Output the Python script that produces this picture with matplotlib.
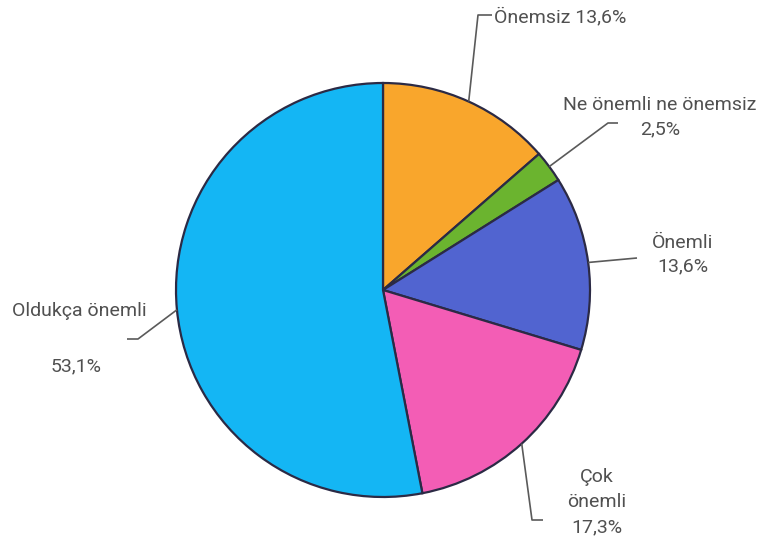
import numpy as np
import matplotlib
matplotlib.use("Agg")
import matplotlib.pyplot as plt

# Survey answers, drawn clockwise from 12 o'clock
categories = ["Önemsiz", "Ne önemli ne önemsiz", "Önemli", "Çok önemli", "Oldukça önemli"]
shares = [13.6, 2.5, 13.6, 17.3, 53.1]
value_labels = ["13,6%", "2,5%", "13,6%", "17,3%", "53,1%"]
colors = ["#F9A62C", "#6BB42F", "#5164D0", "#F35DB5", "#14B6F4"]

W, H = 760, 545
fig = plt.figure(figsize=(W / 100, H / 100), dpi=100)
ax = fig.add_axes([0, 0, 1, 1])


def py(y):
    """Convert a top-down pixel row into the y-up axis coordinate."""
    return H - y


cx, cy, r = 383, py(290), 207
wedges, _ = ax.pie(
    shares, colors=colors, startangle=90, counterclock=False,
    center=(cx, cy), radius=r, frame=True,
    wedgeprops=dict(edgecolor="#2B2A45", linewidth=1.6),
)
ax.set_xlim(0, W)
ax.set_ylim(0, H)
ax.set_aspect("equal")
ax.axis("off")

text_kw = dict(color="#505050", fontsize=14, family=["Roboto", "DejaVu Sans"])
line_kw = dict(color="#5A5A5A", linewidth=1.2, solid_capstyle="butt")

# leader elbows (path after the wedge edge)
leaders = [
    [(478, 15), (492, 15)],
    [(608, 123), (618, 123)],
    [(637, 258)],
    [(532, 520), (543, 520)],
    [(138, 339), (127, 339)],
]

for w, path in zip(wedges, leaders):
    mid = np.deg2rad((w.theta1 + w.theta2) / 2)
    x0, y0 = cx + r * np.cos(mid), cy + r * np.sin(mid)
    xs = [x0] + [p[0] for p in path]
    ys = [y0] + [py(p[1]) for p in path]
    ax.plot(xs, ys, **line_kw)

# Önemsiz
ax.text(494, py(17), f"{categories[0]} {value_labels[0]}", ha="left", va="center", **text_kw)
# Ne önemli ne önemsiz
ax.text(660, py(105), categories[1], ha="center", va="center", **text_kw)
ax.text(660, py(129), value_labels[1], ha="center", va="center", **text_kw)
# Önemli
ax.text(683, py(243), categories[2], ha="center", va="center", **text_kw)
ax.text(683, py(266), value_labels[2], ha="center", va="center", **text_kw)
# Çok önemli
ax.text(597, py(477), "Çok", ha="center", va="center", **text_kw)
ax.text(597, py(502), "önemli", ha="center", va="center", **text_kw)
ax.text(597, py(527), value_labels[3], ha="center", va="center", **text_kw)
# Oldukça önemli
ax.text(12, py(311), categories[4], ha="left", va="center", **text_kw)
ax.text(76, py(366), value_labels[4], ha="center", va="center", **text_kw)

fig.savefig("out.png", dpi=100, facecolor="white")
